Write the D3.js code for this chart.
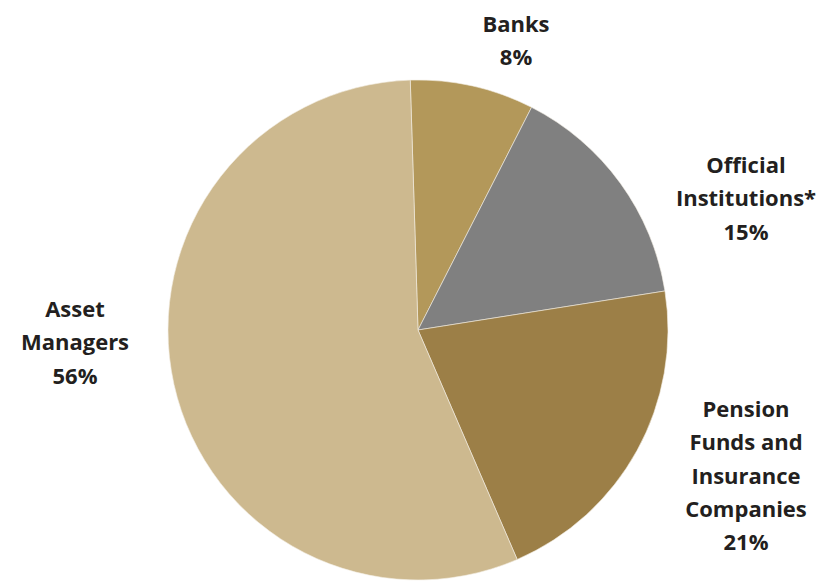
<!DOCTYPE html>
<html>
<head>
<meta charset="utf-8">
<script src="https://cdn.jsdelivr.net/npm/d3@7"></script>
<style>
  body { margin: 0; background: #fff; }
  text { font-family: "Open Sans", "Liberation Sans", sans-serif; font-weight: 700; fill: #231f20; }
</style>
</head>
<body>
<div id="chart"></div>
<script>
// data
var categories = ["Banks", "Official Institutions*", "Pension Funds and Insurance Companies", "Asset Managers"];
var shares = [8, 15, 21, 56];
var labelLines = [
	["Banks", "8%"],
	["Official", "Institutions*", "15%"],
	["Pension", "Funds and", "Insurance", "Companies", "21%"],
	["Asset", "Managers", "56%"]
];
var colors = ["#b3985a", "#808080", "#9c7f47", "#cdb98f"];

var width = 823, height = 582;
var cx = 418, cy = 330, radius = 250;

// where each label block sits (x centre, first baseline)
var labelPos = [[516, 32], [746, 173], [746, 417], [75, 317]];
var lineHeight = 33.3;

var svg = d3.select("#chart").append("svg")
	.attr("width", width)
	.attr("height", height);

var pie = d3.pie()
	.sort(null)
	.value(d => d)
	.startAngle(-0.031)
	.endAngle(-0.031 + 2 * Math.PI);

var arc = d3.arc()
	.innerRadius(0)
	.outerRadius(radius);

var g = svg.append("g")
	.attr("transform", "translate(" + cx + "," + cy + ")");

g.selectAll("path")
	.data(pie(shares))
	.join("path")
	.attr("d", arc)
	.attr("fill", (d, i) => colors[i])
	.attr("stroke", "#f4efe4")
	.attr("stroke-width", 0.6);

// labels
var labels = svg.append("g")
	.selectAll("text")
	.data(categories)
	.join("text")
	.attr("text-anchor", "middle")
	.attr("font-size", 22)
	.attr("x", (d, i) => labelPos[i][0])
	.attr("y", (d, i) => labelPos[i][1]);

labels.each(function (d, i) {
	d3.select(this).selectAll("tspan")
		.data(labelLines[i])
		.join("tspan")
		.attr("x", labelPos[i][0])
		.attr("dy", (t, j) => j === 0 ? 0 : lineHeight)
		.text(t => t);
});
</script>
</body>
</html>
